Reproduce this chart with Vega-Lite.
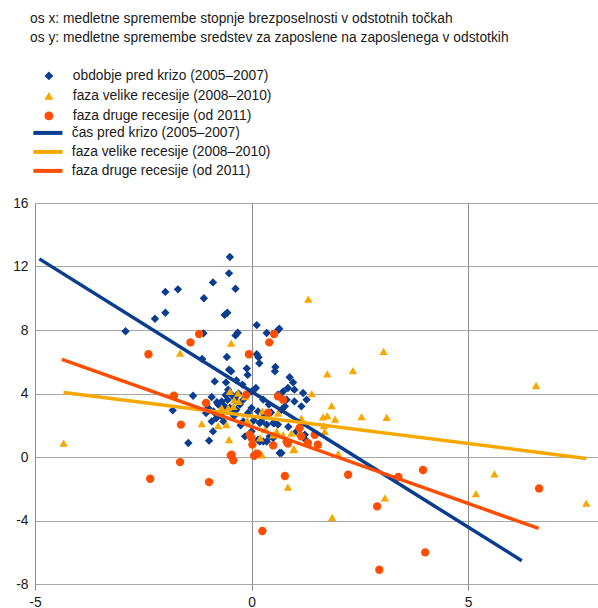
{
  "$schema": "https://vega.github.io/schema/vega-lite/v6.json",
  "width": 563,
  "height": 381,
  "autosize": {"type": "none"},
  "padding": {"left": 35, "top": 203, "right": 0, "bottom": 24},
  "background": "white",
  "title": {
    "text": ["os x: medletne spremembe stopnje brezposelnosti v odstotnih točkah", "os y: medletne spremembe sredstev za zaposlene na zaposlenega v odstotkih"],
    "anchor": "start",
    "frame": "group",
    "fontSize": 13.8,
    "fontWeight": "normal",
    "font": "Liberation Sans",
    "color": "#1a1a1a",
    "lineHeight": 19,
    "offset": 24,
    "dx": -5
  },
  "config": {
    "view": {"stroke": null},
    "font": "Liberation Sans",
    "legend": {"labelFont": "Liberation Sans", "labelFontSize": 13.8, "labelColor": "#1a1a1a", "title": null, "labelLimit": 400}
  },
  "datasets": {
    "tocke": [
      {"x": -0.50, "y": 12.6, "serija": "obdobje pred krizo (2005–2007)"},
      {"x": -0.52, "y": 11.57, "serija": "obdobje pred krizo (2005–2007)"},
      {"x": -0.89, "y": 11.0, "serija": "obdobje pred krizo (2005–2007)"},
      {"x": -0.37, "y": 10.6, "serija": "obdobje pred krizo (2005–2007)"},
      {"x": -1.99, "y": 10.4, "serija": "obdobje pred krizo (2005–2007)"},
      {"x": -1.70, "y": 10.56, "serija": "obdobje pred krizo (2005–2007)"},
      {"x": -1.10, "y": 10.0, "serija": "obdobje pred krizo (2005–2007)"},
      {"x": -2.23, "y": 8.71, "serija": "obdobje pred krizo (2005–2007)"},
      {"x": -1.99, "y": 9.09, "serija": "obdobje pred krizo (2005–2007)"},
      {"x": -0.62, "y": 8.95, "serija": "obdobje pred krizo (2005–2007)"},
      {"x": -0.56, "y": 9.09, "serija": "obdobje pred krizo (2005–2007)"},
      {"x": -2.91, "y": 7.92, "serija": "obdobje pred krizo (2005–2007)"},
      {"x": -1.11, "y": 7.79, "serija": "obdobje pred krizo (2005–2007)"},
      {"x": -0.37, "y": 7.66, "serija": "obdobje pred krizo (2005–2007)"},
      {"x": -0.32, "y": 7.83, "serija": "obdobje pred krizo (2005–2007)"},
      {"x": 0.12, "y": 8.31, "serija": "obdobje pred krizo (2005–2007)"},
      {"x": 0.35, "y": 7.81, "serija": "obdobje pred krizo (2005–2007)"},
      {"x": 0.59, "y": 7.94, "serija": "obdobje pred krizo (2005–2007)"},
      {"x": 0.64, "y": 8.08, "serija": "obdobje pred krizo (2005–2007)"},
      {"x": -0.57, "y": 6.3, "serija": "obdobje pred krizo (2005–2007)"},
      {"x": -1.14, "y": 6.17, "serija": "obdobje pred krizo (2005–2007)"},
      {"x": 0.12, "y": 6.47, "serija": "obdobje pred krizo (2005–2007)"},
      {"x": 0.16, "y": 6.28, "serija": "obdobje pred krizo (2005–2007)"},
      {"x": 0.18, "y": 5.9, "serija": "obdobje pred krizo (2005–2007)"},
      {"x": -0.52, "y": 5.5, "serija": "obdobje pred krizo (2005–2007)"},
      {"x": -0.47, "y": 5.4, "serija": "obdobje pred krizo (2005–2007)"},
      {"x": -0.11, "y": 5.58, "serija": "obdobje pred krizo (2005–2007)"},
      {"x": -0.09, "y": 5.17, "serija": "obdobje pred krizo (2005–2007)"},
      {"x": 0.55, "y": 5.67, "serija": "obdobje pred krizo (2005–2007)"},
      {"x": 0.54, "y": 5.4, "serija": "obdobje pred krizo (2005–2007)"},
      {"x": 0.88, "y": 5.02, "serija": "obdobje pred krizo (2005–2007)"},
      {"x": 0.96, "y": 4.7, "serija": "obdobje pred krizo (2005–2007)"},
      {"x": -0.59, "y": 4.7, "serija": "obdobje pred krizo (2005–2007)"},
      {"x": -0.35, "y": 4.83, "serija": "obdobje pred krizo (2005–2007)"},
      {"x": -0.21, "y": 4.56, "serija": "obdobje pred krizo (2005–2007)"},
      {"x": 0.10, "y": 4.35, "serija": "obdobje pred krizo (2005–2007)"},
      {"x": -1.82, "y": 2.94, "serija": "obdobje pred krizo (2005–2007)"},
      {"x": -1.35, "y": 3.86, "serija": "obdobje pred krizo (2005–2007)"},
      {"x": -1.46, "y": 0.88, "serija": "obdobje pred krizo (2005–2007)"},
      {"x": -0.98, "y": 1.03, "serija": "obdobje pred krizo (2005–2007)"},
      {"x": -0.89, "y": 1.61, "serija": "obdobje pred krizo (2005–2007)"},
      {"x": -0.92, "y": 2.24, "serija": "obdobje pred krizo (2005–2007)"},
      {"x": -1.05, "y": 2.77, "serija": "obdobje pred krizo (2005–2007)"},
      {"x": -0.92, "y": 3.78, "serija": "obdobje pred krizo (2005–2007)"},
      {"x": -0.80, "y": 3.45, "serija": "obdobje pred krizo (2005–2007)"},
      {"x": -0.70, "y": 3.3, "serija": "obdobje pred krizo (2005–2007)"},
      {"x": -0.55, "y": 3.6, "serija": "obdobje pred krizo (2005–2007)"},
      {"x": -0.65, "y": 2.24, "serija": "obdobje pred krizo (2005–2007)"},
      {"x": -0.15, "y": 1.3, "serija": "obdobje pred krizo (2005–2007)"},
      {"x": 0.27, "y": 3.61, "serija": "obdobje pred krizo (2005–2007)"},
      {"x": 0.65, "y": 0.25, "serija": "obdobje pred krizo (2005–2007)"},
      {"x": -0.77, "y": 3.3, "serija": "obdobje pred krizo (2005–2007)"},
      {"x": -1.00, "y": 3.09, "serija": "obdobje pred krizo (2005–2007)"},
      {"x": -0.88, "y": 2.87, "serija": "obdobje pred krizo (2005–2007)"},
      {"x": -0.82, "y": 2.71, "serija": "obdobje pred krizo (2005–2007)"},
      {"x": -0.81, "y": 2.46, "serija": "obdobje pred krizo (2005–2007)"},
      {"x": -0.85, "y": 4.76, "serija": "obdobje pred krizo (2005–2007)"},
      {"x": -0.54, "y": 4.24, "serija": "obdobje pred krizo (2005–2007)"},
      {"x": 0.00, "y": 4.13, "serija": "obdobje pred krizo (2005–2007)"},
      {"x": -0.69, "y": 3.5, "serija": "obdobje pred krizo (2005–2007)"},
      {"x": -0.62, "y": 3.19, "serija": "obdobje pred krizo (2005–2007)"},
      {"x": -0.27, "y": 3.3, "serija": "obdobje pred krizo (2005–2007)"},
      {"x": -0.35, "y": 3.5, "serija": "obdobje pred krizo (2005–2007)"},
      {"x": -0.38, "y": 3.72, "serija": "obdobje pred krizo (2005–2007)"},
      {"x": 0.00, "y": 3.09, "serija": "obdobje pred krizo (2005–2007)"},
      {"x": -0.08, "y": 2.77, "serija": "obdobje pred krizo (2005–2007)"},
      {"x": 0.15, "y": 2.87, "serija": "obdobje pred krizo (2005–2007)"},
      {"x": 0.23, "y": 2.24, "serija": "obdobje pred krizo (2005–2007)"},
      {"x": 0.35, "y": 2.04, "serija": "obdobje pred krizo (2005–2007)"},
      {"x": 0.50, "y": 2.14, "serija": "obdobje pred krizo (2005–2007)"},
      {"x": 0.61, "y": 2.04, "serija": "obdobje pred krizo (2005–2007)"},
      {"x": 0.69, "y": 2.98, "serija": "obdobje pred krizo (2005–2007)"},
      {"x": 0.61, "y": 3.93, "serija": "obdobje pred krizo (2005–2007)"},
      {"x": 0.69, "y": 3.72, "serija": "obdobje pred krizo (2005–2007)"},
      {"x": 0.15, "y": 1.09, "serija": "obdobje pred krizo (2005–2007)"},
      {"x": 0.00, "y": 1.61, "serija": "obdobje pred krizo (2005–2007)"},
      {"x": 0.35, "y": 0.98, "serija": "obdobje pred krizo (2005–2007)"},
      {"x": 0.19, "y": 0.98, "serija": "obdobje pred krizo (2005–2007)"},
      {"x": 0.84, "y": 4.35, "serija": "obdobje pred krizo (2005–2007)"},
      {"x": 0.99, "y": 4.24, "serija": "obdobje pred krizo (2005–2007)"},
      {"x": 0.73, "y": 4.13, "serija": "obdobje pred krizo (2005–2007)"},
      {"x": 1.19, "y": 4.03, "serija": "obdobje pred krizo (2005–2007)"},
      {"x": 1.27, "y": 3.61, "serija": "obdobje pred krizo (2005–2007)"},
      {"x": 1.15, "y": 3.19, "serija": "obdobje pred krizo (2005–2007)"},
      {"x": 0.99, "y": 3.5, "serija": "obdobje pred krizo (2005–2007)"},
      {"x": 0.81, "y": 3.61, "serija": "obdobje pred krizo (2005–2007)"},
      {"x": 0.77, "y": 3.19, "serija": "obdobje pred krizo (2005–2007)"},
      {"x": 1.04, "y": 1.61, "serija": "obdobje pred krizo (2005–2007)"},
      {"x": 1.23, "y": 1.4, "serija": "obdobje pred krizo (2005–2007)"},
      {"x": 1.07, "y": 1.51, "serija": "obdobje pred krizo (2005–2007)"},
      {"x": 1.23, "y": 1.13, "serija": "obdobje pred krizo (2005–2007)"},
      {"x": 0.69, "y": 0.25, "serija": "obdobje pred krizo (2005–2007)"},
      {"x": -0.19, "y": 2.24, "serija": "obdobje pred krizo (2005–2007)"},
      {"x": -0.30, "y": 4.0, "serija": "obdobje pred krizo (2005–2007)"},
      {"x": -0.45, "y": 3.9, "serija": "obdobje pred krizo (2005–2007)"},
      {"x": -0.60, "y": 3.9, "serija": "obdobje pred krizo (2005–2007)"},
      {"x": -0.40, "y": 2.6, "serija": "obdobje pred krizo (2005–2007)"},
      {"x": -0.25, "y": 2.0, "serija": "obdobje pred krizo (2005–2007)"},
      {"x": 0.45, "y": 2.8, "serija": "obdobje pred krizo (2005–2007)"},
      {"x": 0.40, "y": 3.3, "serija": "obdobje pred krizo (2005–2007)"},
      {"x": 0.50, "y": 1.2, "serija": "obdobje pred krizo (2005–2007)"},
      {"x": 0.85, "y": 1.9, "serija": "obdobje pred krizo (2005–2007)"},
      {"x": -0.70, "y": 2.6, "serija": "obdobje pred krizo (2005–2007)"},
      {"x": 0.05, "y": 2.3, "serija": "obdobje pred krizo (2005–2007)"},
      {"x": -0.50, "y": 3.1, "serija": "obdobje pred krizo (2005–2007)"},
      {"x": 0.30, "y": 2.6, "serija": "obdobje pred krizo (2005–2007)"},
      {"x": -0.19, "y": 3.61, "serija": "obdobje pred krizo (2005–2007)"},
      {"x": -0.35, "y": 2.98, "serija": "obdobje pred krizo (2005–2007)"},
      {"x": -0.46, "y": 2.77, "serija": "obdobje pred krizo (2005–2007)"},
      {"x": 0.19, "y": 2.14, "serija": "obdobje pred krizo (2005–2007)"},
      {"x": 0.53, "y": 2.14, "serija": "obdobje pred krizo (2005–2007)"},
      {"x": 0.27, "y": 0.98, "serija": "obdobje pred krizo (2005–2007)"},
      {"x": 0.42, "y": 1.3, "serija": "obdobje pred krizo (2005–2007)"},
      {"x": -4.34, "y": 0.88, "serija": "faza velike recesije (2008–2010)"},
      {"x": -1.65, "y": 6.55, "serija": "faza velike recesije (2008–2010)"},
      {"x": -0.47, "y": 7.18, "serija": "faza velike recesije (2008–2010)"},
      {"x": 1.31, "y": 9.95, "serija": "faza velike recesije (2008–2010)"},
      {"x": 3.05, "y": 6.65, "serija": "faza velike recesije (2008–2010)"},
      {"x": 1.75, "y": 5.23, "serija": "faza velike recesije (2008–2010)"},
      {"x": 2.34, "y": 5.44, "serija": "faza velike recesije (2008–2010)"},
      {"x": 6.57, "y": 4.51, "serija": "faza velike recesije (2008–2010)"},
      {"x": 1.39, "y": 3.99, "serija": "faza velike recesije (2008–2010)"},
      {"x": 1.85, "y": 3.23, "serija": "faza velike recesije (2008–2010)"},
      {"x": 1.65, "y": 2.52, "serija": "faza velike recesije (2008–2010)"},
      {"x": 1.75, "y": 2.6, "serija": "faza velike recesije (2008–2010)"},
      {"x": 1.93, "y": 2.39, "serija": "faza velike recesije (2008–2010)"},
      {"x": 2.54, "y": 2.54, "serija": "faza velike recesije (2008–2010)"},
      {"x": 3.12, "y": 2.5, "serija": "faza velike recesije (2008–2010)"},
      {"x": 1.67, "y": 1.97, "serija": "faza velike recesije (2008–2010)"},
      {"x": 1.69, "y": 1.61, "serija": "faza velike recesije (2008–2010)"},
      {"x": 1.53, "y": 0.78, "serija": "faza velike recesije (2008–2010)"},
      {"x": 2.00, "y": 0.21, "serija": "faza velike recesije (2008–2010)"},
      {"x": 1.86, "y": -3.8, "serija": "faza velike recesije (2008–2010)"},
      {"x": 3.08, "y": -2.58, "serija": "faza velike recesije (2008–2010)"},
      {"x": 5.61, "y": -1.07, "serija": "faza velike recesije (2008–2010)"},
      {"x": 5.18, "y": -2.31, "serija": "faza velike recesije (2008–2010)"},
      {"x": 7.73, "y": -2.9, "serija": "faza velike recesije (2008–2010)"},
      {"x": 0.84, "y": -1.89, "serija": "faza velike recesije (2008–2010)"},
      {"x": 0.24, "y": 0.14, "serija": "faza velike recesije (2008–2010)"},
      {"x": -1.15, "y": 2.1, "serija": "faza velike recesije (2008–2010)"},
      {"x": -0.77, "y": 1.97, "serija": "faza velike recesije (2008–2010)"},
      {"x": -0.58, "y": 2.04, "serija": "faza velike recesije (2008–2010)"},
      {"x": -0.52, "y": 1.09, "serija": "faza velike recesije (2008–2010)"},
      {"x": -0.50, "y": 4.13, "serija": "faza velike recesije (2008–2010)"},
      {"x": -0.31, "y": 4.03, "serija": "faza velike recesije (2008–2010)"},
      {"x": -0.69, "y": 3.09, "serija": "faza velike recesije (2008–2010)"},
      {"x": -0.54, "y": 3.09, "serija": "faza velike recesije (2008–2010)"},
      {"x": -0.42, "y": 3.19, "serija": "faza velike recesije (2008–2010)"},
      {"x": 0.98, "y": 0.52, "serija": "faza velike recesije (2008–2010)"},
      {"x": 0.61, "y": 2.77, "serija": "faza velike recesije (2008–2010)"},
      {"x": 0.92, "y": 1.51, "serija": "faza velike recesije (2008–2010)"},
      {"x": 1.11, "y": 1.51, "serija": "faza velike recesije (2008–2010)"},
      {"x": 0.25, "y": 2.9, "serija": "faza velike recesije (2008–2010)"},
      {"x": 0.50, "y": 1.4, "serija": "faza velike recesije (2008–2010)"},
      {"x": 0.20, "y": 1.2, "serija": "faza velike recesije (2008–2010)"},
      {"x": -0.10, "y": 2.3, "serija": "faza velike recesije (2008–2010)"},
      {"x": -0.30, "y": 3.5, "serija": "faza velike recesije (2008–2010)"},
      {"x": -0.15, "y": 3.8, "serija": "faza velike recesije (2008–2010)"},
      {"x": 0.08, "y": 0.33, "serija": "faza velike recesije (2008–2010)"},
      {"x": 0.31, "y": 1.72, "serija": "faza velike recesije (2008–2010)"},
      {"x": 0.58, "y": 1.61, "serija": "faza velike recesije (2008–2010)"},
      {"x": 0.97, "y": 0.46, "serija": "faza velike recesije (2008–2010)"},
      {"x": 0.73, "y": 1.4, "serija": "faza velike recesije (2008–2010)"},
      {"x": 1.15, "y": 2.45, "serija": "faza velike recesije (2008–2010)"},
      {"x": -0.40, "y": 3.6, "serija": "faza velike recesije (2008–2010)"},
      {"x": -2.38, "y": 6.47, "serija": "faza druge recesije (od 2011)"},
      {"x": -1.41, "y": 7.22, "serija": "faza druge recesije (od 2011)"},
      {"x": -1.21, "y": 7.75, "serija": "faza druge recesije (od 2011)"},
      {"x": -0.06, "y": 6.47, "serija": "faza druge recesije (od 2011)"},
      {"x": 0.41, "y": 7.22, "serija": "faza druge recesije (od 2011)"},
      {"x": 0.52, "y": 7.75, "serija": "faza druge recesije (od 2011)"},
      {"x": -1.79, "y": 3.86, "serija": "faza druge recesije (od 2011)"},
      {"x": -1.63, "y": 2.04, "serija": "faza druge recesije (od 2011)"},
      {"x": -1.65, "y": -0.32, "serija": "faza druge recesije (od 2011)"},
      {"x": -2.34, "y": -1.37, "serija": "faza druge recesije (od 2011)"},
      {"x": -0.98, "y": -1.58, "serija": "faza druge recesije (od 2011)"},
      {"x": -0.48, "y": 0.1, "serija": "faza druge recesije (od 2011)"},
      {"x": -0.42, "y": -0.21, "serija": "faza druge recesije (od 2011)"},
      {"x": 0.25, "y": -4.66, "serija": "faza druge recesije (od 2011)"},
      {"x": 0.77, "y": -1.2, "serija": "faza druge recesije (od 2011)"},
      {"x": -1.05, "y": 3.4, "serija": "faza druge recesije (od 2011)"},
      {"x": 0.02, "y": 0.78, "serija": "faza druge recesije (od 2011)"},
      {"x": 0.06, "y": 0.08, "serija": "faza druge recesije (od 2011)"},
      {"x": 0.14, "y": 0.21, "serija": "faza druge recesije (od 2011)"},
      {"x": 0.50, "y": 0.73, "serija": "faza druge recesije (od 2011)"},
      {"x": 0.84, "y": 0.84, "serija": "faza druge recesije (od 2011)"},
      {"x": 0.73, "y": 3.61, "serija": "faza druge recesije (od 2011)"},
      {"x": 0.61, "y": 3.82, "serija": "faza druge recesije (od 2011)"},
      {"x": 0.38, "y": 2.77, "serija": "faza druge recesije (od 2011)"},
      {"x": 1.30, "y": 0.88, "serija": "faza druge recesije (od 2011)"},
      {"x": 1.46, "y": 1.4, "serija": "faza druge recesije (od 2011)"},
      {"x": 1.53, "y": 0.78, "serija": "faza druge recesije (od 2011)"},
      {"x": -0.04, "y": 1.4, "serija": "faza druge recesije (od 2011)"},
      {"x": -0.12, "y": 3.93, "serija": "faza druge recesije (od 2011)"},
      {"x": 2.23, "y": -1.12, "serija": "faza druge recesije (od 2011)"},
      {"x": 2.90, "y": -3.11, "serija": "faza druge recesije (od 2011)"},
      {"x": 3.39, "y": -1.26, "serija": "faza druge recesije (od 2011)"},
      {"x": 3.96, "y": -0.82, "serija": "faza druge recesije (od 2011)"},
      {"x": 4.01, "y": -6.01, "serija": "faza druge recesije (od 2011)"},
      {"x": 2.95, "y": -7.1, "serija": "faza druge recesije (od 2011)"},
      {"x": 6.64, "y": -1.98, "serija": "faza druge recesije (od 2011)"},
      {"x": 0.00, "y": 1.2, "serija": "faza druge recesije (od 2011)"},
      {"x": -0.46, "y": 0.14, "serija": "faza druge recesije (od 2011)"},
      {"x": 1.11, "y": 1.83, "serija": "faza druge recesije (od 2011)"},
      {"x": 1.15, "y": 1.3, "serija": "faza druge recesije (od 2011)"},
      {"x": 0.81, "y": 0.98, "serija": "faza druge recesije (od 2011)"}
    ],
    "premice": [
      {"x": -4.90, "y": 12.48, "trend": "čas pred krizo (2005–2007)"},
      {"x": 6.24, "y": -6.53, "trend": "čas pred krizo (2005–2007)"},
      {"x": -4.34, "y": 4.07, "trend": "faza velike recesije (2008–2010)"},
      {"x": 7.73, "y": -0.09, "trend": "faza velike recesije (2008–2010)"},
      {"x": -4.38, "y": 6.15, "trend": "faza druge recesije (od 2011)"},
      {"x": 6.63, "y": -4.5, "trend": "faza druge recesije (od 2011)"}
    ]
  },
  "encoding": {
    "x": {
      "field": "x", "type": "quantitative",
      "scale": {"domain": [-5, 8], "nice": false, "zero": false},
      "axis": {
        "title": null, "values": [-5, 0, 5], "grid": true, "gridColor": "#8c8c8c", "gridWidth": 1,
        "domain": false, "ticks": true, "tickColor": "#8c8c8c", "tickSize": 6, "labelPadding": 5,
        "labelFont": "Liberation Sans", "labelFontSize": 13.8, "labelColor": "#1a1a1a",
        "labelExpr": "'' + datum.value", "labelFlush": false, "labelOverlap": false
      }
    },
    "y": {
      "field": "y", "type": "quantitative",
      "scale": {"domain": [-8, 16], "nice": false, "zero": false},
      "axis": {
        "title": null, "values": [-8, -4, 0, 4, 8, 12, 16], "grid": true, "gridColor": "#a8a8a8", "gridWidth": 1,
        "domain": true, "domainColor": "#8c8c8c", "ticks": false, "labelPadding": 7,
        "labelFont": "Liberation Sans", "labelFontSize": 13.8, "labelColor": "#1a1a1a",
        "labelExpr": "'' + datum.value", "labelFlush": false, "labelOverlap": false
      }
    }
  },
  "layer": [
    {
      "data": {"name": "tocke"},
      "mark": {"type": "point", "filled": true, "opacity": 1, "size": 70},
      "encoding": {
        "color": {
          "field": "serija", "type": "nominal",
          "scale": {"domain": ["obdobje pred krizo (2005–2007)", "faza velike recesije (2008–2010)", "faza druge recesije (od 2011)"], "range": ["#0a3d8f", "#f7a800", "#ff4e00"]},
          "legend": {"orient": "none", "legendX": 7, "legendY": -134, "symbolSize": 80, "labelOffset": 17, "rowPadding": 5, "symbolStrokeWidth": 0}
        },
        "shape": {
          "field": "serija", "type": "nominal",
          "scale": {"domain": ["obdobje pred krizo (2005–2007)", "faza velike recesije (2008–2010)", "faza druge recesije (od 2011)"], "range": ["diamond", "triangle-up", "circle"]},
          "legend": {"orient": "none", "legendX": 7, "legendY": -134, "symbolSize": 80, "labelOffset": 17, "rowPadding": 5, "symbolStrokeWidth": 0}
        }
      }
    },
    {
      "data": {"name": "premice"},
      "mark": {"type": "line", "strokeWidth": 3.5},
      "encoding": {
        "color": {
          "field": "trend", "type": "nominal",
          "scale": {"domain": ["čas pred krizo (2005–2007)", "faza velike recesije (2008–2010)", "faza druge recesije (od 2011)"], "range": ["#0a3d8f", "#f7a800", "#ff4e00"]},
          "legend": {
            "orient": "none", "legendX": 6, "legendY": -77, "symbolType": "M-3.25,0H3.25", "symbolSize": 80,
            "symbolStrokeWidth": 4, "labelOffset": 17, "rowPadding": 2
          }
        }
      }
    }
  ],
  "resolve": {"scale": {"color": "independent", "shape": "independent"}}
}
